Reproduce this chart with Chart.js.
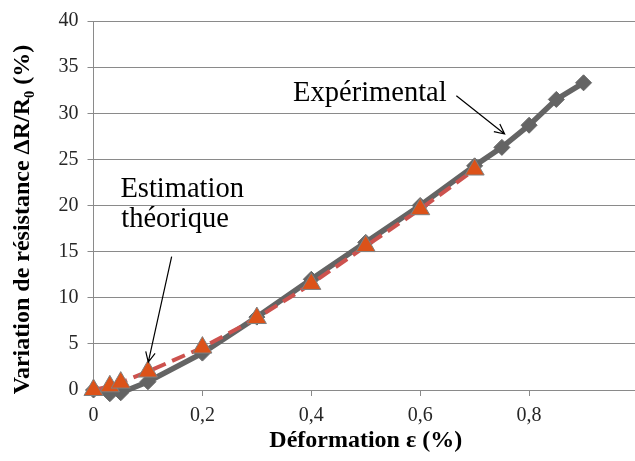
<!DOCTYPE html>
<html><head><meta charset="utf-8">
<script src="https://cdn.jsdelivr.net/npm/chart.js@4"></script>
<style>
html,body{margin:0;padding:0;overflow:hidden;background:#fff}
#wrap{width:650px;height:461px;position:relative}
</style></head>
<body><div id="wrap"><canvas id="c"></canvas></div>
<script>
// ---- data ----
const strainTheo = [0, 0.03, 0.05, 0.1, 0.2, 0.3, 0.4, 0.5, 0.6, 0.7];
const resTheo    = [0, 0.4, 0.8, 2.0, 4.6, 7.8, 11.5, 15.6, 19.6, 23.9];
const strainExp  = [0, 0.03, 0.05, 0.1, 0.2, 0.3, 0.4, 0.5, 0.6, 0.7, 0.75, 0.8, 0.85, 0.9];
const resExp     = [0, -0.4, -0.3, 0.9, 4.0, 7.9, 12.0, 16.0, 20.0, 24.3, 26.3, 28.7, 31.5, 33.3];
const xTickValues = [0, 0.2, 0.4, 0.6, 0.8];
const yTickValues = [0, 5, 10, 15, 20, 25, 30, 35, 40];
const seriesNames = ['Estimation théorique', 'Expérimental'];
const xTitle = 'Déformation ε (%)';
const yTitle = 'Variation de résistance ΔR/R₀ (%)';

// ---- annotations (data coordinates) ----
const notes = [
  {text: 'Expérimental', x: 0.3666, y: 31.36},
  {text: 'Estimation', x: 0.0494, y: 20.89},
  {text: 'théorique', x: 0.0510, y: 17.68}
];
const arrows = [
  {x1: 0.6664, y1: 31.9, x2: 0.7550, y2: 27.75},
  {x1: 0.1435, y1: 14.47, x2: 0.1006, y2: 3.03}
];

const serif = '"Liberation Serif", "Times New Roman", serif';

const notesPlugin = {
  id: 'notes',
  afterDraw(chart) {
    const {ctx, scales: {x, y}} = chart;
    ctx.save();
    // y axis title
    ctx.fillStyle = '#000';
    ctx.font = 'bold 24px ' + serif;
    ctx.textAlign = 'center';
    ctx.textBaseline = 'middle';
    ctx.translate(23, (y.top + y.bottom) / 2 + 14);
    ctx.rotate(-Math.PI / 2);
    ctx.fillText(yTitle, 0, 0);
    ctx.restore();

    ctx.save();
    ctx.fillStyle = '#000';
    ctx.font = '28.5px ' + serif;
    ctx.textAlign = 'left';
    ctx.textBaseline = 'alphabetic';
    notes.forEach(n => ctx.fillText(n.text, x.getPixelForValue(n.x), y.getPixelForValue(n.y)));
    ctx.strokeStyle = '#000';
    ctx.lineWidth = 1.2;
    arrows.forEach(a => {
      const x1 = x.getPixelForValue(a.x1), y1 = y.getPixelForValue(a.y1);
      const x2 = x.getPixelForValue(a.x2), y2 = y.getPixelForValue(a.y2);
      const ang = Math.atan2(y2 - y1, x2 - x1);
      const L = 11, spread = 0.45;
      ctx.beginPath();
      ctx.moveTo(x1, y1); ctx.lineTo(x2, y2);
      ctx.moveTo(x2 - L * Math.cos(ang - spread), y2 - L * Math.sin(ang - spread));
      ctx.lineTo(x2, y2);
      ctx.lineTo(x2 - L * Math.cos(ang + spread), y2 - L * Math.sin(ang + spread));
      ctx.stroke();
    });
    ctx.restore();
  }
};

const fmt = v => String(Math.round(v * 10) / 10).replace('.', ',');

new Chart(document.getElementById('c'), {
  type: 'scatter',
  data: {
    datasets: [
      {
        label: seriesNames[0],
        data: strainTheo.map((v, i) => ({x: v, y: resTheo[i]})),
        showLine: true,
        borderColor: '#CD524E',
        borderWidth: 4,
        borderDash: [14, 7],
        pointStyle: 'triangle',
        pointRadius: 11,
        pointBackgroundColor: '#DC5219',
        pointBorderColor: '#808080',
        pointBorderWidth: 1,
        clip: false,
        order: 0
      },
      {
        label: seriesNames[1],
        data: strainExp.map((v, i) => ({x: v, y: resExp[i]})),
        showLine: true,
        borderColor: '#646464',
        borderWidth: 5.5,
        pointStyle: 'rectRot',
        pointRadius: 8,
        pointBackgroundColor: '#646464',
        pointBorderColor: '#646464',
        pointBorderWidth: 1,
        clip: false,
        order: 1
      }
    ]
  },
  options: {
    responsive: true,
    maintainAspectRatio: false,
    animation: false,
    layout: {padding: {top: 17, right: 11.5, left: 0, bottom: 0}},
    plugins: {legend: {display: false}, tooltip: {enabled: false}},
    scales: {
      x: {
        type: 'linear', position: 'bottom', min: 0, max: 1,
        afterBuildTicks: s => { s.ticks = xTickValues.map(v => ({value: v})); },
        afterFit: s => { s.height = 71; },
        grid: {drawOnChartArea: false, drawTicks: true, tickLength: 6, color: '#8a8a8a'},
        border: {color: '#8a8a8a', width: 1},
        ticks: {font: {family: serif, size: 20}, color: '#262626', padding: 8, callback: v => fmt(v)},
        title: {display: true, text: xTitle, color: '#000',
                font: {family: serif, size: 24, weight: 'bold'}, padding: {top: 0, bottom: 6}}
      },
      y: {
        type: 'linear', min: 0, max: 40,
        afterBuildTicks: s => { s.ticks = yTickValues.map(v => ({value: v})); },
        afterFit: s => { s.width = 93.5; },
        grid: {color: '#8a8a8a', drawTicks: true, tickLength: 6},
        border: {color: '#8a8a8a', width: 1},
        ticks: {font: {family: serif, size: 20}, color: '#262626', padding: 9, callback: v => fmt(v)},
        title: {display: false, text: yTitle}
      }
    }
  },
  plugins: [notesPlugin]
});
</script>
</body></html>
